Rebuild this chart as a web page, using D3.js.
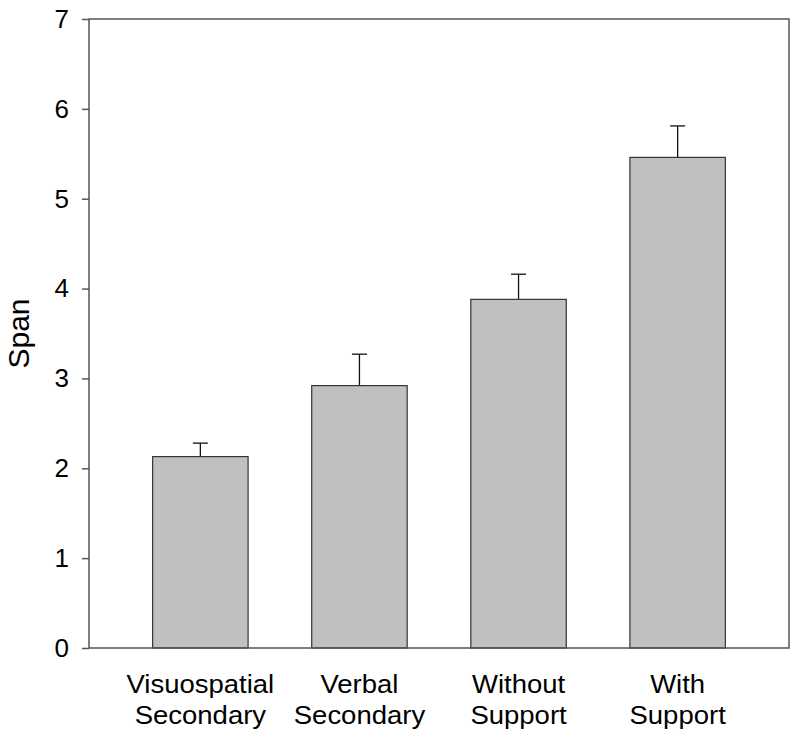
<!DOCTYPE html>
<html>
<head>
<meta charset="utf-8">
<script src="https://cdn.jsdelivr.net/npm/d3@7"></script>
<style>
body { margin: 0; background: #fff; }
svg text { font-family: Arial, "Liberation Sans", sans-serif; fill: #000; }
</style>
</head>
<body>
<svg id="chart" width="800" height="743"></svg>
<script>
const categories = [["Visuospatial", "Secondary"], ["Verbal", "Secondary"], ["Without", "Support"], ["With", "Support"]];
const spanMeans = [2.13, 2.92, 3.88, 5.46];
const spanErrors = [0.15, 0.35, 0.28, 0.35];
const yTicks = [0, 1, 2, 3, 4, 5, 6, 7];
const yLabel = "Span";

const W = 800, H = 743;
const m = { left: 89, right: 11, top: 19, bottom: 95 };
const svg = d3.select("#chart");
const iw = W - m.left - m.right, ih = H - m.top - m.bottom;
const g = svg.append("g").attr("transform", `translate(${m.left},${m.top})`);

const keys = categories.map(c => c.join(" "));
const x = d3.scaleBand().domain(keys).range([0, iw]).paddingInner(0.4).paddingOuter(0.4);
const y = d3.scaleLinear().domain([0, 7]).range([ih, 0]);

// error bars (upper only)
const eb = g.selectAll(".eb").data(keys).enter().append("g");
eb.append("line")
  .attr("x1", d => x(d) + x.bandwidth() / 2).attr("x2", d => x(d) + x.bandwidth() / 2)
  .attr("y1", (d, i) => y(spanMeans[i])).attr("y2", (d, i) => y(spanMeans[i] + spanErrors[i]))
  .attr("stroke", "#111").attr("stroke-width", 1.3);
eb.append("line")
  .attr("x1", d => x(d) + x.bandwidth() / 2 - 7.5).attr("x2", d => x(d) + x.bandwidth() / 2 + 7.5)
  .attr("y1", (d, i) => y(spanMeans[i] + spanErrors[i])).attr("y2", (d, i) => y(spanMeans[i] + spanErrors[i]))
  .attr("stroke", "#111").attr("stroke-width", 1.3);

// bars
g.selectAll(".bar").data(keys).enter().append("rect")
  .attr("x", d => x(d)).attr("width", x.bandwidth())
  .attr("y", (d, i) => y(spanMeans[i])).attr("height", (d, i) => ih - y(spanMeans[i]))
  .attr("fill", "#c0c0c0").attr("stroke", "#333").attr("stroke-width", 1.2);

// frame
g.append("rect").attr("x", 0).attr("y", 0).attr("width", iw).attr("height", ih)
  .attr("fill", "none").attr("stroke", "#555").attr("stroke-width", 1.5);

// y axis
const ya = g.append("g").call(d3.axisLeft(y).tickValues(yTicks).tickSize(7).tickPadding(13).tickFormat(d3.format("d")));
ya.select(".domain").remove();
ya.selectAll(".tick line").attr("stroke", "#555").attr("stroke-width", 1.5);
ya.selectAll(".tick text").style("font-size", "26px").attr("fill", "#000")
  .style("font-family", "Arial, 'Liberation Sans', sans-serif");

// x labels
const xl = g.selectAll(".xl").data(categories).enter().append("text")
  .attr("text-anchor", "middle")
  .attr("transform", (d, i) => `translate(${x(keys[i]) + x.bandwidth() / 2},${ih + 45}) scale(1.1,1)`)
  .style("font-size", "25px");
xl.append("tspan").attr("x", 0).attr("y", 0).text(d => d[0]);
xl.append("tspan").attr("x", 0).attr("y", 31).text(d => d[1]);

// y label
svg.append("text").attr("text-anchor", "middle")
  .attr("transform", `translate(${29},${m.top + ih / 2}) rotate(-90)`)
  .style("font-size", "30px").text(yLabel);
</script>
</body>
</html>
